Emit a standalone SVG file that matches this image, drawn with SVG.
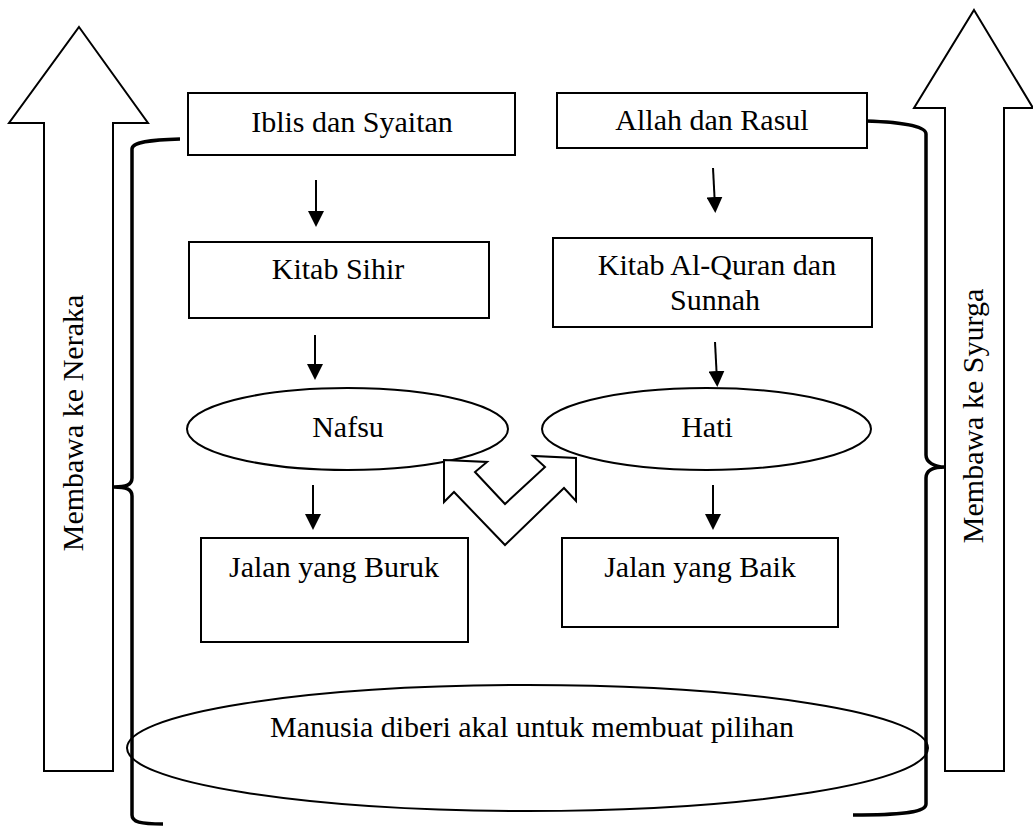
<svg xmlns="http://www.w3.org/2000/svg" width="1033" height="829" viewBox="0 0 1033 829">
<style>
  .box{fill:#fff;stroke:#000;stroke-width:2}
  .ell{fill:#fff;stroke:#000;stroke-width:2}
  .big{fill:#fff;stroke:#000;stroke-width:2;stroke-linejoin:miter}
  .brace{fill:none;stroke:#000;stroke-width:3.5;stroke-linecap:butt}
  .arr{stroke:#000;stroke-width:2;fill:none}
  .t{font-family:'Liberation Serif','Times New Roman','DejaVu Serif',serif;font-size:30px;fill:#000;text-anchor:middle}
</style>
<defs>
  <marker id="head" viewBox="0 0 16 16" refX="0" refY="8" markerWidth="16" markerHeight="16" markerUnits="userSpaceOnUse" orient="auto">
    <path d="M0,0 L16,8 L0,16 z" fill="#000"/>
  </marker>
</defs>
<rect width="1033" height="829" fill="#fff"/>

<g id="arrow-neraka">
  <polygon class="big" points="79,27 148,123 113,123 113,771 44,771 44,123 9,123"/>
  <text class="t" transform="translate(83,423) rotate(-90)">Membawa ke Neraka</text>
</g>
<g id="arrow-syurga">
  <polygon class="big" points="974,10 1033,108 1004,108 1004,771 945,771 945,108 914,108"/>
  <text class="t" transform="translate(983,416) rotate(-90)">Membawa ke Syurga</text>
</g>

<g id="manusia">
  <ellipse class="ell" cx="527.5" cy="748" rx="400.5" ry="63"/>
  <text class="t" x="532" y="737">Manusia diberi akal untuk membuat pilihan</text>
</g>

<g id="brackets">
  <path class="brace" d="M180,139 C150,140 132,142 132,149 L132,478 C132,485 126,487 114,487 C126,487 132,489 132,496 L132,815 C132,822 140,824 163,824"/>
  <path class="brace" d="M866,121 C900,122 926,126 926,134 L926,455 C926,462 934,467 945,467 C934,467 926,470 926,478 L926,804 C926,812 905,815 853,815"/>
</g>

<g id="iblis">
  <rect class="box" x="188" y="93" width="327" height="62"/>
  <text class="t" x="352" y="132">Iblis dan Syaitan</text>
</g>
<g id="allah">
  <rect class="box" x="557" y="93" width="310" height="55"/>
  <text class="t" x="712" y="130">Allah dan Rasul</text>
</g>
<g id="kitab-sihir">
  <rect class="box" x="189" y="242" width="300" height="76"/>
  <text class="t" x="338" y="279">Kitab Sihir</text>
</g>
<g id="kitab-quran">
  <rect class="box" x="553" y="238" width="319" height="89"/>
  <text class="t" x="717" y="275">Kitab Al-Quran dan</text>
  <text class="t" x="715" y="310">Sunnah</text>
</g>
<g id="nafsu">
  <ellipse class="ell" cx="347.5" cy="429" rx="160.5" ry="41"/>
  <text class="t" x="348" y="437">Nafsu</text>
</g>
<g id="hati">
  <ellipse class="ell" cx="706.5" cy="429" rx="164.5" ry="41"/>
  <text class="t" x="707" y="437">Hati</text>
</g>
<g id="jalan-buruk">
  <rect class="box" x="201" y="538" width="267" height="104"/>
  <text class="t" x="334" y="577">Jalan yang Buruk</text>
</g>
<g id="jalan-baik">
  <rect class="box" x="562" y="538" width="276" height="89"/>
  <text class="t" x="700" y="577">Jalan yang Baik</text>
</g>

<g id="connectors">
  <line class="arr" x1="316" y1="180" x2="316" y2="211" marker-end="url(#head)"/>
  <line class="arr" x1="315" y1="335" x2="315" y2="364" marker-end="url(#head)"/>
  <line class="arr" x1="313" y1="485" x2="313" y2="514" marker-end="url(#head)"/>
  <line class="arr" x1="713" y1="168" x2="714.5" y2="197" marker-end="url(#head)"/>
  <line class="arr" x1="715" y1="342" x2="716.5" y2="371" marker-end="url(#head)"/>
  <line class="arr" x1="713" y1="485" x2="713" y2="514" marker-end="url(#head)"/>
  <polygon id="double-arrow" class="big" points="444,460 487,462 475,472 505,504 545,467 533,456 576,458 576,501 564,488 505,545 454,492 444,502"/>
</g>
</svg>
